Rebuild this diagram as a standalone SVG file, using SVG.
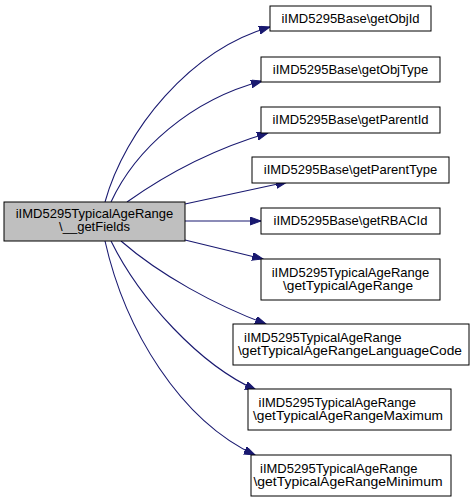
<svg xmlns="http://www.w3.org/2000/svg" width="473" height="502" viewBox="0 0 473 502">
<style>
rect.n { fill: #ffffff; stroke: #000000; stroke-width: 1; }
rect.main { fill: #bfbfbf; stroke: #000000; stroke-width: 1; }
text { font-family: "Liberation Sans", Arial, sans-serif; font-size: 13px; fill: #000000; }
.c { text-anchor: middle; }
.l { text-anchor: start; }
#edges path { fill: none; stroke: #191970; stroke-width: 1.1; marker-end: url(#arr); }
</style>
<defs>
<marker id="arr" markerUnits="userSpaceOnUse" markerWidth="13" markerHeight="10" refX="11" refY="4" orient="auto">
<path d="M0,0 L11,4 L0,8 z" fill="#191970" stroke="#191970" stroke-width="1"/>
</marker>
</defs>
<rect width="473" height="502" fill="#ffffff"/>
<g id="edges">
<path d="M105,202 C125,130 190,50 270,27"/>
<path d="M111,202 C135,150 190,100 262,81"/>
<path d="M127,202 C165,175 210,150 268,133"/>
<path d="M185,204 L287,182"/>
<path d="M185,221 L261,221"/>
<path d="M185,240 L263,259"/>
<path d="M121,241 C160,275 215,305 266,324"/>
<path d="M111,241 C140,300 200,365 256,390"/>
<path d="M105,241 C125,330 180,420 255,455"/>
</g>
<g id="main">
<rect class="main" x="4" y="202" width="181" height="39"/>
<text class="c" x="94.5" y="218">iIMD5295TypicalAgeRange</text>
<text class="c" x="94.5" y="231">\__getFields</text>
</g>
<g id="n1">
<rect class="n" x="270" y="6" width="161" height="25"/>
<text class="c" x="350.5" y="22.5">iIMD5295Base\getObjId</text>
</g>
<g id="n2">
<rect class="n" x="261" y="57" width="179" height="25"/>
<text class="c" x="350.5" y="73.5">iIMD5295Base\getObjType</text>
</g>
<g id="n3">
<rect class="n" x="261" y="107" width="179" height="26"/>
<text class="c" x="350.5" y="124">iIMD5295Base\getParentId</text>
</g>
<g id="n4">
<rect class="n" x="252" y="157" width="197" height="26"/>
<text class="c" x="350.5" y="174">iIMD5295Base\getParentType</text>
</g>
<g id="n5">
<rect class="n" x="261" y="208" width="179" height="26"/>
<text class="c" x="350.5" y="225">iIMD5295Base\getRBACId</text>
</g>
<g id="n6">
<rect class="n" x="261" y="259" width="179" height="41"/>
<text class="c" x="350.5" y="276.5">iIMD5295TypicalAgeRange</text>
<text class="l" x="283" y="289.5" textLength="130" lengthAdjust="spacingAndGlyphs">\getTypicalAgeRange</text>
</g>
<g id="n7">
<rect class="n" x="233" y="324" width="236" height="41"/>
<text class="l" x="244" y="341.5">iIMD5295TypicalAgeRange</text>
<text class="l" x="238" y="354.5" textLength="224" lengthAdjust="spacingAndGlyphs">\getTypicalAgeRangeLanguageCode</text>
</g>
<g id="n8">
<rect class="n" x="248" y="389" width="203" height="41"/>
<text class="l" x="258.5" y="406.5">iIMD5295TypicalAgeRange</text>
<text class="l" x="253" y="419.5" textLength="190" lengthAdjust="spacingAndGlyphs">\getTypicalAgeRangeMaximum</text>
</g>
<g id="n9">
<rect class="n" x="251" y="455" width="200" height="41"/>
<text class="l" x="260" y="472.5">iIMD5295TypicalAgeRange</text>
<text class="l" x="253.5" y="485.5" textLength="189" lengthAdjust="spacingAndGlyphs">\getTypicalAgeRangeMinimum</text>
</g>
</svg>
